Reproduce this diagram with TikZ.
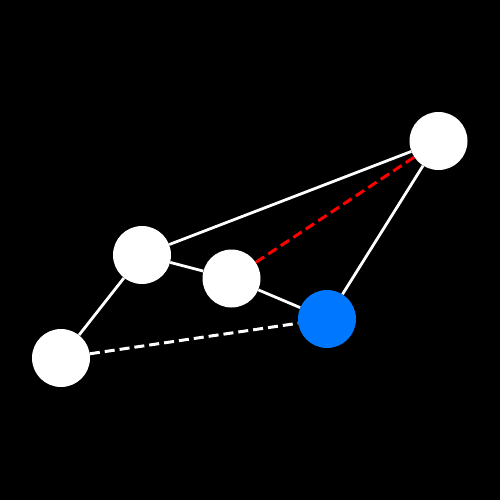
\documentclass[tikz,border=0pt]{standalone}
\begin{document}
\begin{tikzpicture}[x=1pt,y=-1pt,
  vtx/.style={circle,fill=white,minimum size=58pt,inner sep=0pt},
  hot/.style={circle,fill=hotblue,minimum size=58pt,inner sep=0pt},
  edge/.style={draw=white,line width=2.8pt},
  dedge/.style={draw=white,line width=3pt,dash pattern=on 10pt off 5pt},
  redge/.style={draw=red,line width=3pt,dash pattern=on 10pt off 5pt}]
\definecolor{hotblue}{RGB}{0,119,255}
\fill[black] (0,0) rectangle (500,500);
\useasboundingbox (0,0) rectangle (500,500);
\node[vtx] (a) at (438.5,141) {};
\node[vtx] (b) at (142,255) {};
\node[vtx] (c) at (231.5,278.5) {};
\node[hot] (d) at (327,319) {};
\node[vtx] (e) at (61,358) {};
\path[edge] (b) -- (a);
\path[edge] (b) -- (c);
\path[edge] (c) -- (d);
\path[edge] (d) -- (a);
\path[edge] (e) -- (b);
\path[dedge] (e) -- (d);
\path[redge] (c) -- (a);
\end{tikzpicture}
\end{document}
